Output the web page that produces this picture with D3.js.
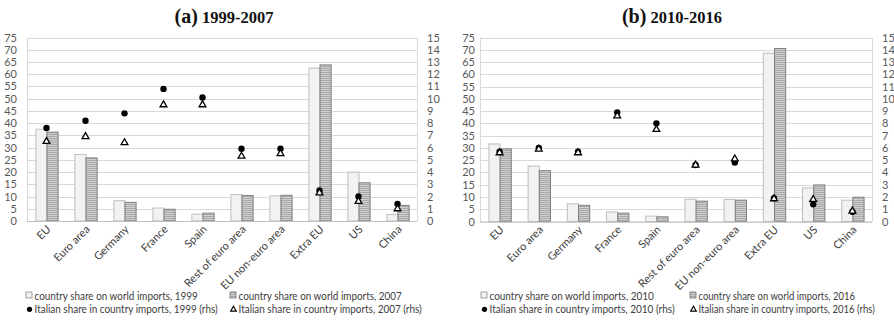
<!DOCTYPE html>
<html>
<head>
<meta charset="utf-8">
<script src="https://cdn.jsdelivr.net/npm/d3@7"></script>
<style>
  html, body { margin: 0; padding: 0; background: #ffffff; }
  svg { display: block; }
  .tick-label { font-family: Lato, "Open Sans", sans-serif; font-size: 11px; fill: #595959; }
  .cat-label { font-family: Lato, "Open Sans", sans-serif; font-size: 11px; fill: #404040; }
  .legend-label { font-family: Lato, "Open Sans", sans-serif; font-size: 11px; fill: #404040; }
  .title { font-family: "Liberation Serif", "Times New Roman", serif; font-weight: bold; fill: #111; }
</style>
</head>
<body>
<svg id="chart" width="894" height="321"></svg>
<script>
// Categories shared by both panels
const categories = ["EU", "Euro area", "Germany", "France", "Spain",
  "Rest of euro area", "EU non-euro area", "Extra EU", "US", "China"];

// Left-hand axis ticks (country share on world imports, %) and right-hand ticks (Italian share, %)
const lhsTicks = [0, 5, 10, 15, 20, 25, 30, 35, 40, 45, 50, 55, 60, 65, 70, 75];
const rhsTicks = [0, 1, 2, 3, 4, 5, 6, 7, 8, 9, 10, 11, 12, 13, 14, 15];

// Panel (a): 1999-2007
const worldShare1999 = [37.5, 27.2, 8.3, 5.3, 2.8, 10.8, 10.3, 62.5, 20.0, 2.7];
const worldShare2007 = [36.3, 25.8, 7.6, 4.8, 3.2, 10.4, 10.5, 63.8, 15.6, 6.4];
const italianShare1999 = [7.6, 8.2, 8.8, 10.8, 10.1, 5.9, 5.9, 2.5, 2.0, 1.4];
const italianShare2007 = [6.5, 6.9, 6.4, 9.5, 9.5, 5.3, 5.5, 2.3, 1.6, 1.0];

// Panel (b): 2010-2016
const worldShare2010 = [31.6, 22.6, 7.2, 3.9, 2.2, 9.1, 9.0, 68.6, 13.7, 8.7];
const worldShare2016 = [29.6, 20.7, 6.6, 3.4, 1.9, 8.3, 8.7, 70.5, 14.9, 9.9];
const italianShare2010 = [5.7, 6.0, 5.7, 8.9, 8.0, 4.6, 4.8, 1.9, 1.4, 0.8];
const italianShare2016 = [5.6, 5.9, 5.6, 8.6, 7.5, 4.6, 5.1, 1.85, 1.8, 0.85];

const svg = d3.select("#chart");

// Horizontal hatch for the second bar series
const defs = svg.append("defs");
const pat = defs.append("pattern")
  .attr("id", "hatch").attr("patternUnits", "userSpaceOnUse")
  .attr("width", 4).attr("height", 2);
pat.append("rect").attr("width", 4).attr("height", 2).attr("fill", "#cfcfcf");
pat.append("rect").attr("width", 4).attr("height", 1).attr("fill", "#a9a9a9");

function drawPanel(cfg) {
  const g = svg.append("g");
  const x = d3.scaleBand().domain(categories).range([cfg.left, cfg.right]);
  const y = d3.scaleLinear().domain([0, 75]).range([cfg.bottom, cfg.top]);
  const y2 = d3.scaleLinear().domain([0, 15]).range([cfg.bottom, cfg.top]);
  const bw = x.bandwidth() * 0.285;

  // Title
  const t = g.append("text").attr("class", "title")
    .attr("x", cfg.titleX).attr("y", 23).attr("text-anchor", "middle");
  t.append("tspan").attr("font-size", "20px").text(cfg.titleTag);
  t.append("tspan").attr("font-size", "16.5px").text(" " + cfg.titleYears);

  // Gridlines
  g.append("g").selectAll("line").data(lhsTicks).join("line")
    .attr("x1", cfg.left).attr("x2", cfg.right)
    .attr("y1", d => Math.round(y(d)) + 0.5).attr("y2", d => Math.round(y(d)) + 0.5)
    .attr("stroke", "#d9d9d9").attr("stroke-width", 1);

  // Side frame lines
  [cfg.left, cfg.right].forEach(px => {
    g.append("line").attr("x1", px + 0.5).attr("x2", px + 0.5)
      .attr("y1", y(75)).attr("y2", y(0))
      .attr("stroke", "#d9d9d9");
  });

  // Axes (labels only)
  const axL = d3.axisLeft(y).tickValues(lhsTicks).tickSize(0).tickPadding(cfg.lhsPad);
  const axR = d3.axisRight(y2).tickValues(rhsTicks).tickSize(0).tickPadding(10);
  const gl = g.append("g").attr("transform", `translate(${cfg.left},0)`).call(axL);
  const gr = g.append("g").attr("transform", `translate(${cfg.right},0)`).call(axR);
  [gl, gr].forEach(a => {
    a.select(".domain").remove();
    a.selectAll("text").attr("class", "tick-label").attr("font-size", null).attr("font-family", null).attr("fill", null);
    a.attr("font-size", null).attr("font-family", null);
  });

  // Bars
  g.append("g").selectAll("rect").data(cfg.barsA).join("rect")
    .attr("x", (d, i) => x(categories[i]) + x.bandwidth() / 2 - bw + 0.5)
    .attr("y", d => y(d))
    .attr("width", bw)
    .attr("height", d => y(0) - y(d))
    .attr("fill", "#f2f2f2").attr("stroke", "#bdbdbd").attr("stroke-width", 1);
  g.append("g").selectAll("rect").data(cfg.barsB).join("rect")
    .attr("x", (d, i) => x(categories[i]) + x.bandwidth() / 2 + 0.5)
    .attr("y", d => y(d))
    .attr("width", bw)
    .attr("height", d => y(0) - y(d))
    .attr("fill", "url(#hatch)").attr("stroke", "#7f7f7f").attr("stroke-width", 1);

  // Baseline
  g.append("line").attr("x1", cfg.left).attr("x2", cfg.right)
    .attr("y1", y(0) + 0.5).attr("y2", y(0) + 0.5).attr("stroke", "#bfbfbf");

  // Markers on the right-hand scale
  g.append("g").selectAll("circle").data(cfg.dots).join("circle")
    .attr("cx", (d, i) => x(categories[i]) + x.bandwidth() / 2)
    .attr("cy", d => y2(d)).attr("r", 3.2).attr("fill", "#000");
  const tri = d3.symbol().type(d3.symbolTriangle).size(20);
  g.append("g").selectAll("path").data(cfg.tris).join("path")
    .attr("d", tri)
    .attr("transform", (d, i) => `translate(${x(categories[i]) + x.bandwidth() / 2},${y2(d)})`)
    .attr("fill", "#fff").attr("stroke", "#000").attr("stroke-width", 1.3);

  // Category labels
  g.append("g").selectAll("text").data(categories).join("text")
    .attr("class", "cat-label")
    .attr("text-anchor", "end")
    .attr("transform", d => `translate(${x(d) + x.bandwidth() / 2 + 5},${y(0) + 9}) rotate(-45)`)
    .text(d => d);

  // Legend
  const lg = g.append("g");
  const r1 = 299.5, r2 = 313;
  lg.append("rect").attr("x", cfg.leg1 - 8.5).attr("y", r1 - 7.5).attr("width", 6).attr("height", 6)
    .attr("fill", "#f2f2f2").attr("stroke", "#8c8c8c").attr("stroke-width", 0.8);
  lg.append("rect").attr("x", cfg.leg2 - 8.5).attr("y", r1 - 7.5).attr("width", 6).attr("height", 6)
    .attr("fill", "url(#hatch)").attr("stroke", "#6f6f6f").attr("stroke-width", 0.8);
  lg.append("circle").attr("cx", cfg.leg1 - 5).attr("cy", r2 - 3.7).attr("r", 2.6).attr("fill", "#000");
  lg.append("path").attr("d", d3.symbol().type(d3.symbolTriangle).size(14))
    .attr("transform", `translate(${cfg.leg2 - 5},${r2 - 3.5})`)
    .attr("fill", "#fff").attr("stroke", "#000").attr("stroke-width", 1.1);
  const legTexts = [
    [cfg.leg1, r1, cfg.labels[0], cfg.widths[0]],
    [cfg.leg2, r1, cfg.labels[1], cfg.widths[1]],
    [cfg.leg1, r2, cfg.labels[2], cfg.widths[2]],
    [cfg.leg2, r2, cfg.labels[3], cfg.widths[3]]
  ];
  // Legend entries are condensed horizontally to their slot width
  legTexts.forEach(([lx, ly, txt, w]) => {
    const el = lg.append("text").attr("class", "legend-label").text(txt);
    const natural = el.node().getComputedTextLength();
    const k = natural > 0 ? w / natural : 1;
    el.attr("transform", `translate(${lx},${ly}) scale(${k},1)`);
  });
}

drawPanel({
  left: 27, right: 417, top: 37.5, bottom: 221, lhsPad: 10, titleX: 224,
  titleTag: "(a)", titleYears: "1999-2007",
  barsA: worldShare1999, barsB: worldShare2007,
  dots: italianShare1999, tris: italianShare2007,
  leg1: 34.5, leg2: 238.5,
  labels: ["country share on world imports, 1999", "country share on world imports, 2007",
           "Italian share in country imports, 1999 (rhs)", "Italian share in country imports, 2007 (rhs)"],
  widths: [163.5, 163.5, 183.5, 183.5]
});

drawPanel({
  left: 480, right: 872, top: 37.5, bottom: 221.5, lhsPad: 5, titleX: 672,
  titleTag: "(b)", titleYears: "2010-2016",
  barsA: worldShare2010, barsB: worldShare2016,
  dots: italianShare2010, tris: italianShare2016,
  leg1: 489.5, leg2: 698.5,
  labels: ["country share on world imports, 2010", "country share on world imports, 2016",
           "Italian share in country imports, 2010 (rhs)", "Italian share in country imports, 2016 (rhs)"],
  widths: [164.5, 156.5, 185.5, 176.5]
});
</script>
</body>
</html>
